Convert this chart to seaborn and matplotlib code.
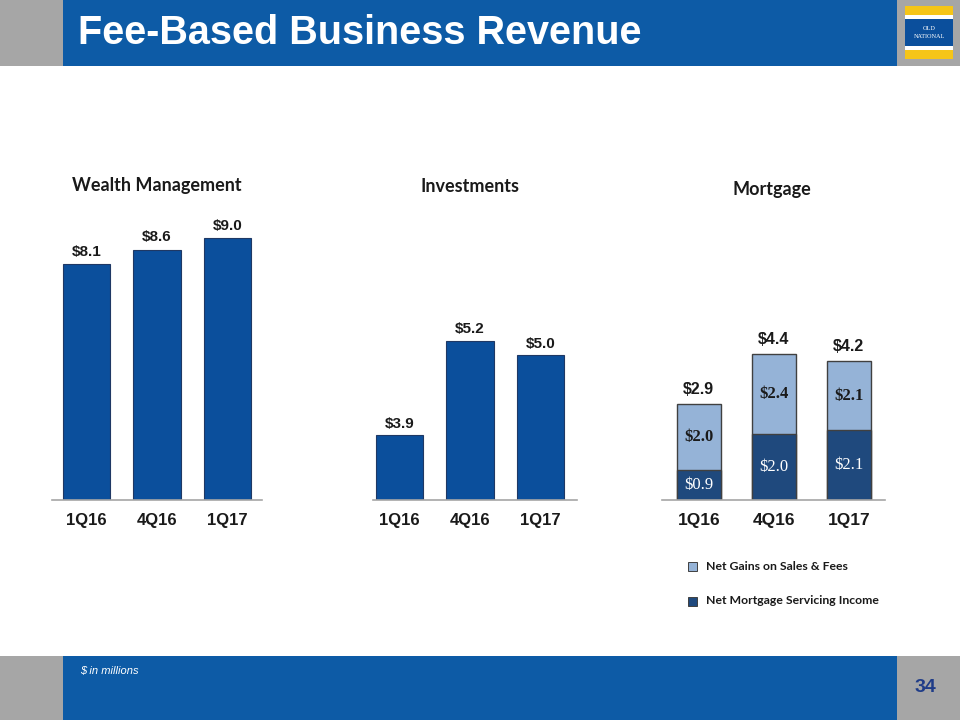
import matplotlib
matplotlib.use("Agg")
import matplotlib.pyplot as plt
import seaborn as sns
from matplotlib.patches import Rectangle

# ---------------- data ----------------
quarters = ["1Q16", "4Q16", "1Q17"]
wealth = [8.1, 8.6, 9.0]
investments = [3.9, 5.2, 5.0]
mort_servicing = [0.9, 2.0, 2.1]   # Net Mortgage Servicing Income
mort_gains = [2.0, 2.4, 2.1]       # Net Gains on Sales & Fees
mort_total = [2.9, 4.4, 4.2]
legend_labels = ["Net Gains on Sales & Fees", "Net Mortgage Servicing Income"]

# ---------------- style ----------------
sns.set_theme(style="white")
plt.rcParams["font.family"] = ["Liberation Sans", "DejaVu Sans"]
NARROW = ["Liberation Sans", "DejaVu Sans"]
CAL = ["Lato", "DejaVu Sans"]
SERIF = ["Liberation Serif", "DejaVu Serif"]

W, H = 960, 720
fig = plt.figure(figsize=(W / 100, H / 100), dpi=100)
fig.patch.set_facecolor("white")

BLUE_BAR = "#0B4F9C"
BAR_EDGE = "#1F3864"
LIGHT = "#95B3D7"
DARK = "#1F497D"
HEAD_BLUE = "#0D5BA6"
GRAY = "#A6A6A6"


def frect(x0, y0, x1, y1, color, z=0):
    fig.patches.append(Rectangle((x0 / W, 1 - y1 / H), (x1 - x0) / W, (y1 - y0) / H,
                                 transform=fig.transFigure, facecolor=color,
                                 edgecolor="none", zorder=z))


def px_axes(left, top, right, bottom):
    return fig.add_axes([left / W, 1 - bottom / H, (right - left) / W, (bottom - top) / H])


# ---------------- header / footer ----------------
frect(0, 0, 960, 66, GRAY)
frect(63, 0, 897, 66, HEAD_BLUE)
frect(0, 656, 960, 720, GRAY)
frect(63, 656, 897, 720, HEAD_BLUE)
# logo
frect(905, 6, 953, 59, "#F5C518", 1)
frect(905, 15, 953, 50, "white", 2)
frect(905, 19, 953, 46, "#0B4F9C", 3)
fig.text(929 / W, 1 - 29 / H, "OLD", color="white", fontsize=4.5, ha="center",
         va="center", family=SERIF, zorder=4)
fig.text(929 / W, 1 - 36 / H, "NATIONAL", color="white", fontsize=4.5, ha="center",
         va="center", family=SERIF, zorder=4)

fig.text(78 / W, 1 - 33 / H, "Fee-Based Business Revenue", color="white",
         fontsize=28.5, fontweight="bold", family=NARROW, ha="left", va="center")
fig.text(80 / W, 1 - 671 / H, "$ in millions", color="white", fontsize=8,
         style="italic", ha="left", va="center")
fig.text(925 / W, 1 - 688 / H, "34", color="#1F3C88", fontsize=14,
         fontweight="bold", ha="center", va="center")


def style_ax(ax):
    for s in ["top", "left", "right"]:
        ax.spines[s].set_visible(False)
    ax.spines["bottom"].set_color(GRAY)
    ax.spines["bottom"].set_linewidth(1.2)
    ax.set_yticks([])
    ax.set_xlabel("")
    ax.set_ylabel("")
    ax.tick_params(axis="x", length=0, pad=9)
    for t in ax.get_xticklabels():
        t.set_fontfamily(NARROW)
        t.set_fontweight("bold")
        t.set_fontsize(12)
        t.set_color("#1a1a1a")
    ax.patch.set_alpha(0)


# ---------------- Wealth Management ----------------
ax1 = px_axes(52, 209, 262, 500)
sns.barplot(x=quarters, y=wealth, ax=ax1, color=BLUE_BAR, saturation=1,
            width=0.667, edgecolor=BAR_EDGE, linewidth=0.8)
ax1.set_xlim(-0.49, 2.49)
ax1.set_ylim(0, 10)
ax1.bar_label(ax1.containers[0], labels=[f"${v:.1f}" for v in wealth], padding=4,
              fontsize=11, fontweight="bold", family=NARROW, color="#1a1a1a")
style_ax(ax1)
fig.text(157 / W, 1 - 185 / H, "Wealth Management", fontsize=13, fontweight="bold",
         family=CAL, ha="center", va="center", color="#1a1a1a")

# ---------------- Investments ----------------
ax2 = px_axes(373, 282.5, 577, 500)
sns.barplot(x=quarters, y=investments, ax=ax2, color=BLUE_BAR, saturation=1,
            width=0.667, edgecolor=BAR_EDGE, linewidth=0.8)
ax2.set_xlim(-0.376, 2.518)
ax2.set_ylim(3.0, 6.0)
ax2.bar_label(ax2.containers[0], labels=[f"${v:.1f}" for v in investments], padding=3,
              fontsize=11, fontweight="bold", family=NARROW, color="#1a1a1a")
style_ax(ax2)
fig.text(470 / W, 1 - 187 / H, "Investments", fontsize=13, fontweight="bold",
         family=CAL, ha="center", va="center", color="#1a1a1a")

# ---------------- Mortgage ----------------
ax3 = px_axes(662, 301, 885, 500)
sns.barplot(x=quarters, y=mort_total, ax=ax3, color=LIGHT, saturation=1,
            width=0.587, edgecolor="#404040", linewidth=1.0)
sns.barplot(x=quarters, y=mort_servicing, ax=ax3, color=DARK, saturation=1,
            width=0.587, edgecolor="#404040", linewidth=1.0)
ax3.set_xlim(-0.49, 2.48)
ax3.set_ylim(0, 6)
ax3.bar_label(ax3.containers[0], labels=[f"${v:.1f}" for v in mort_total], padding=5,
              fontsize=11.5, fontweight="bold", family=NARROW, color="#1a1a1a")
for i in range(len(quarters)):
    ax3.text(i, mort_servicing[i] / 2, f"${mort_servicing[i]:.1f}", ha="center",
             va="center", color="white", fontsize=12, family=SERIF)
    ax3.text(i, mort_servicing[i] + mort_gains[i] / 2, f"${mort_gains[i]:.1f}",
             ha="center", va="center", color="#1a1a1a", fontsize=12,
             fontweight="bold", family=SERIF)
style_ax(ax3)
for t in ax3.get_xticklabels():
    t.set_fontsize(12.5)
fig.text(772 / W, 1 - 190 / H, "Mortgage", fontsize=13, fontweight="bold",
         family=CAL, ha="center", va="center", color="#1a1a1a")

# legend (manual)
for yy, col, lab in [(566, LIGHT, legend_labels[0]), (601, DARK, legend_labels[1])]:
    fig.patches.append(Rectangle((688 / W, 1 - (yy + 5) / H), 9 / W, 9 / H,
                                 transform=fig.transFigure, facecolor=col,
                                 edgecolor="#404040", linewidth=0.7))
    fig.text(706 / W, 1 - yy / H, lab, fontsize=8.8, fontweight="bold", family=CAL,
             ha="left", va="center", color="#1a1a1a")

fig.savefig("out.png", dpi=100)
